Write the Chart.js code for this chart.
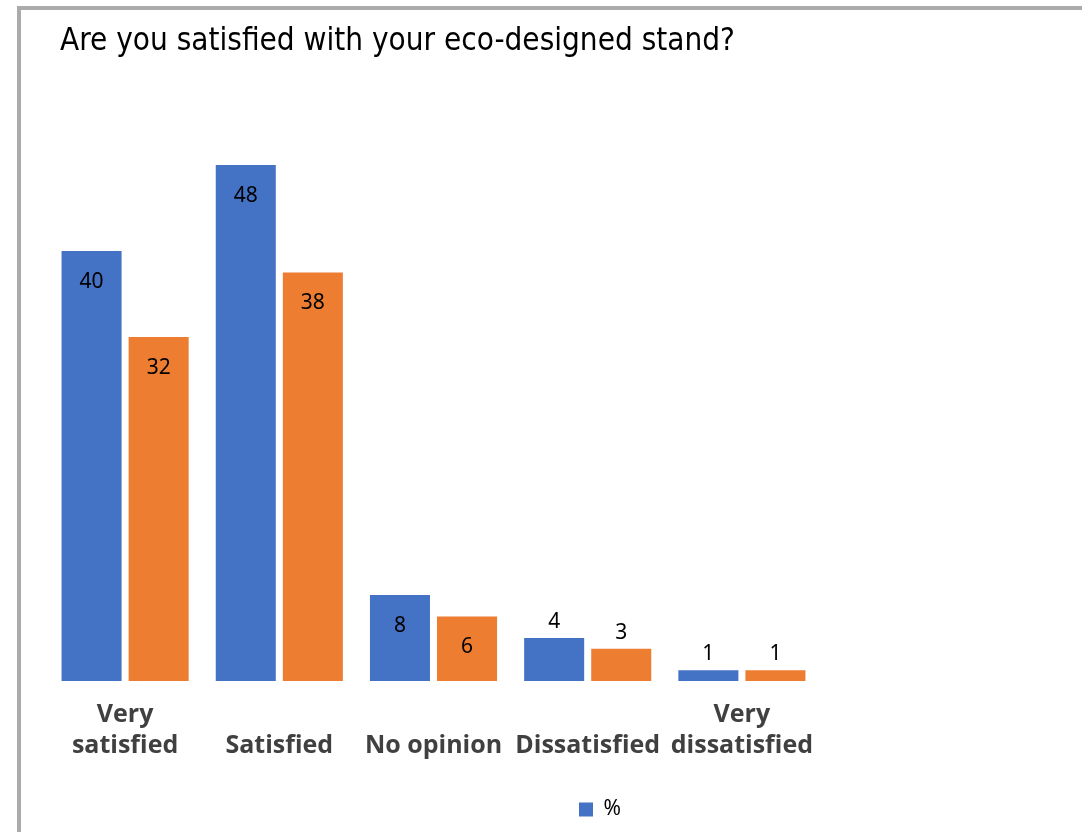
<!DOCTYPE html>
<html>
<head>
<meta charset="utf-8">
<script src="https://cdn.jsdelivr.net/npm/chart.js@4.4.1/dist/chart.umd.min.js"></script>
<style>
    html, body { margin: 0; padding: 0; background: #fff; overflow: hidden; width: 1082px; height: 832px; }
    #moldura { position: absolute; left: 17px; top: 6px; width: 1300px; height: 1000px; border: 4px solid #ababab; box-sizing: border-box; }
    #titulo { position: absolute; left: 60px; top: 21px; font-family: "DejaVu Sans Condensed", "DejaVu Sans", sans-serif; font-size: 31.2px; line-height: 36px; color: #000; white-space: nowrap; }
    #area { position: absolute; left: 0; top: 0; width: 1200px; height: 832px; }
</style>
</head>
<body>
<div id="moldura"></div>
<div id="area"><canvas id="grafico"></canvas></div>
<div id="titulo">Are you satisfied with your eco-designed stand?</div>
<script>
    var categorias = [['Very', 'satisfied'], ['', 'Satisfied'], ['', 'No opinion'], ['', 'Dissatisfied'], ['Very', 'dissatisfied']];
    var serieAzul = [40, 48, 8, 4, 1];
    var serieLaranja = [32, 38, 6, 3, 1];
    var legendaAzul = '%';
    var eixoMax = 50;

    // rotulos de valor: dentro da barra no topo, acima quando a barra e baixa
    var rotulos = {
        id: 'rotulos',
        afterDatasetsDraw: function (chart) {
            var ctx = chart.ctx;
            ctx.save();
            ctx.font = '21px "Noto Sans"';
            ctx.fillStyle = '#000';
            ctx.textAlign = 'center';
            ctx.textBaseline = 'middle';
            chart.data.datasets.forEach(function (ds, i) {
                chart.getDatasetMeta(i).data.forEach(function (barra, j) {
                    var v = ds.data[j];
                    var y = v >= 5 ? barra.y + 31 : barra.y - 16;
                    ctx.fillText(String(v), barra.x, y);
                });
            });
            ctx.restore();
        }
    };

    var ctx = document.getElementById('grafico').getContext('2d');
    new Chart(ctx, {
        type: 'bar',
        data: {
            labels: categorias,
            datasets: [{
                label: legendaAzul,
                data: serieAzul,
                backgroundColor: '#4472C4',
                categoryPercentage: 0.87,
                barPercentage: 0.895
            }, {
                label: '',
                data: serieLaranja,
                backgroundColor: '#ED7D31',
                categoryPercentage: 0.87,
                barPercentage: 0.895
            }]
        },
        options: {
            responsive: true,
            maintainAspectRatio: false,
            animation: false,
            layout: {padding: {top: 143.5, bottom: 2, left: 0, right: 0}},
            plugins: {
                title: {display: false},
                tooltip: {enabled: false},
                legend: {
                    position: 'bottom',
                    labels: {
                        boxWidth: 14,
                        boxHeight: 14,
                        padding: 20,
                        color: '#000',
                        font: {family: 'Noto Sans', size: 21},
                        filter: function (item) {
                            return item.datasetIndex === 0;
                        }
                    }
                }
            },
            scales: {
                x: {
                    grid: {display: false, drawTicks: false},
                    border: {display: false},
                    ticks: {
                        color: '#404040',
                        font: {family: 'Open Sans', size: 25, weight: 'bold', lineHeight: 1.24},
                        padding: 18,
                        maxRotation: 0,
                        autoSkip: false
                    }
                },
                y: {
                    position: 'left',
                    min: 0,
                    max: eixoMax,
                    ticks: {display: false},
                    grid: {display: false, drawTicks: false},
                    border: {display: false},
                    afterFit: function (escala) { escala.width = 48; }
                },
                direita: {
                    position: 'right',
                    ticks: {display: false},
                    grid: {display: false, drawTicks: false},
                    border: {display: false},
                    afterFit: function (escala) { escala.width = 381; }
                }
            }
        },
        plugins: [rotulos]
    });
</script>
</body>
</html>
